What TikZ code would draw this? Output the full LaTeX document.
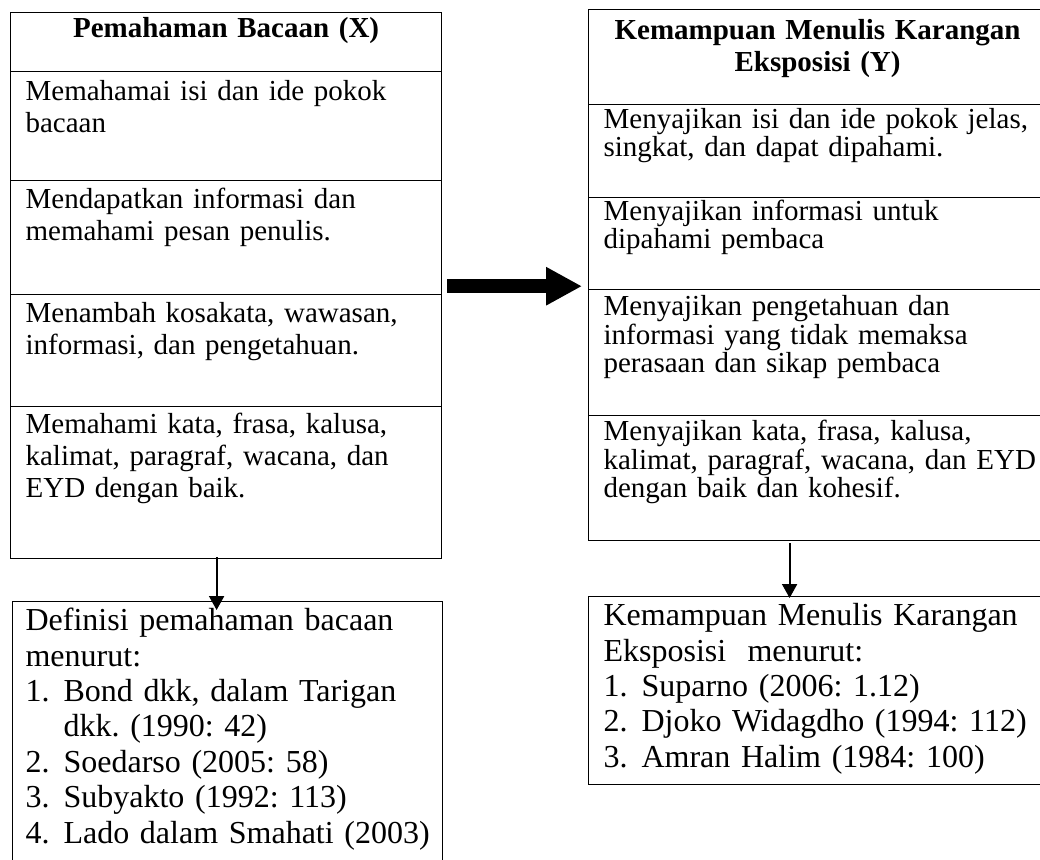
\documentclass[tikz,border=0pt]{standalone}
\usepackage{fontspec}
\setmainfont{Liberation Serif}
\usetikzlibrary{arrows.meta}
\setlength{\lineskiplimit}{-10pt}
\frenchspacing
\newcommand{\nomor}[1]{\makebox[19pt][l]{#1}}

\begin{document}
\begin{tikzpicture}[x=0.5pt,y=-0.5pt,
    kotak/.style={draw,line width=0.6pt,anchor=north west,inner xsep=7.5pt,inner ysep=0pt,align=left},
    kiri/.style={kotak,text width=200.5pt},
    kanan/.style={kotak,text width=214pt},
    longgar/.style={execute at begin node={\rightskip=-20pt plus 1fil}},
    isi/.style={longgar,font=\fontsize{14.5pt}{16pt}\selectfont},
    rapat/.style={longgar,font=\fontsize{14.5pt}{13pt}\selectfont},
    judul/.style={font=\fontsize{14.5pt}{16pt}\selectfont\bfseries,align=center},
    daftar/.style={longgar,font=\fontsize{16pt}{17.7pt}\selectfont},
    panah/.style={-{Triangle[length=7pt,width=7.5pt]},line width=1pt},
    panahbesar/.style={-{Triangle[length=18pt,width=18pt]},line width=7pt}]
  \clip (0,0) rectangle (1040,859);
  % kolom X
  \node[kiri,judul,text height=12.5pt,text depth=17pt] (xjudul) at (10,12) {Pemahaman Bacaan (X)};
  \node[kiri,isi,text height=14.5pt,text depth=40pt] (xa) at (10,71)
    {Memahamai isi dan ide pokok\\bacaan};
  \node[kiri,isi,text height=14pt,text depth=43pt] (xb) at (10,180)
    {Mendapatkan informasi dan\\memahami pesan penulis.};
  \node[kiri,isi,text height=14pt,text depth=42pt] (xc) at (10,294)
    {Menambah kosakata, wawasan,\\informasi, dan pengetahuan.};
  \node[kiri,isi,text height=13.5pt,text depth=62.5pt] (xd) at (10,406)
    {Memahami kata, frasa, kalusa,\\kalimat, paragraf, wacana, dan\\EYD dengan baik.};
  \node[kotak,daftar,inner xsep=6.5pt,text width=202pt,text height=14.5pt,text depth=135.5pt] (xdef) at (12,601)
    {Definisi pemahaman bacaan\\menurut:\\
     \nomor{1.}Bond dkk, dalam Tarigan\\\hspace*{19pt}dkk. (1990: 42)\\
     \nomor{2.}Soedarso (2005: 58)\\
     \nomor{3.}Subyakto (1992: 113)\\
     \nomor{4.}Lado dalam Smahati (2003)};
  % kolom Y
  \node[kanan,judul,text height=15pt,text depth=32.5pt] (yjudul) at (588,9)
    {Kemampuan Menulis Karangan\\Eksposisi (Y)};
  \node[kanan,rapat,text height=12pt,text depth=34.5pt] (ya) at (588,104)
    {Menyajikan isi dan ide pokok jelas,\\singkat, dan dapat dipahami.};
  \node[kanan,rapat,text height=11.5pt,text depth=34.5pt] (yb) at (588,197)
    {Menyajikan informasi untuk\\dipahami pembaca};
  \node[kanan,rapat,text height=13pt,text depth=50pt] (yc) at (588,289)
    {Menyajikan pengetahuan dan\\informasi yang tidak memaksa\\perasaan dan sikap pembaca};
  \node[kanan,rapat,text height=12.5pt,text depth=50pt] (yd) at (588,415)
    {Menyajikan kata, frasa, kalusa,\\kalimat, paragraf, wacana, dan EYD\\dengan baik dan kohesif.};
  \node[kanan,daftar,text height=14.5pt,text depth=79.5pt] (ydef) at (588,596)
    {Kemampuan Menulis Karangan\\Eksposisi\ \ menurut:\\
     \nomor{1.}Suparno (2006: 1.12)\\
     \nomor{2.}Djoko Widagdho (1994: 112)\\
     \nomor{3.}Amran Halim (1984: 100)};
  % panah
  \draw[panahbesar] ([shift={(2.5pt,4.5pt)}]xb.south east) -- ([shift={(-3pt,2pt)}]yb.south west);
  \draw[panah] ([shift={(-4.75pt,1pt)}]xd.south) -- ([shift={(-5.5pt,-4.5pt)}]xdef.north);
  \draw[panah] ([shift={(-14pt,-1pt)}]yd.south) -- ([shift={(-14pt,-1pt)}]ydef.north);
\end{tikzpicture}
\end{document}
